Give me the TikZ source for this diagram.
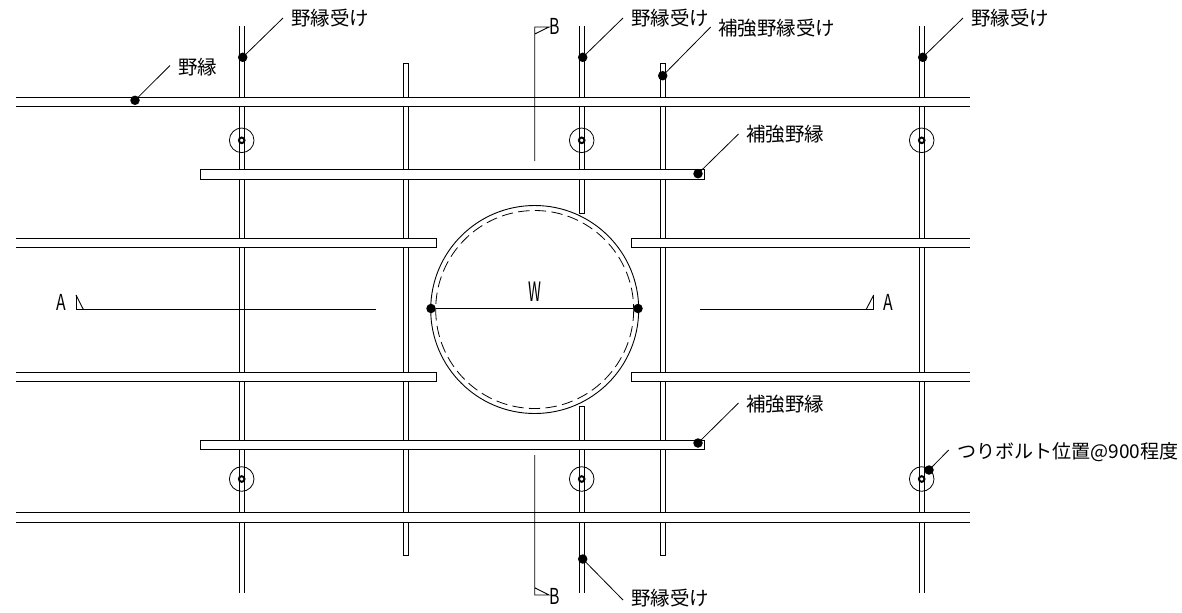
\documentclass[tikz,border=0pt]{standalone}
\usepackage{fontspec}
\setmainfont{Noto Sans CJK JP}
\newfontfamily\latinnarrow[FakeStretch=0.72]{Noto Sans CJK JP}
\newfontfamily\widthletter[FakeStretch=0.55]{Noto Sans CJK JP}
\tikzset{
  wire/.style={line width=0.68pt,black},
  thin wire/.style={line width=0.6pt,black},
  dot/.style={circle,fill=black,draw=none,minimum size=9.5pt*0.75,inner sep=0pt},
  leader/.style={line width=0.6pt,black},
  label text/.style={anchor=west,inner sep=0pt,yshift=-1.2pt,font=\fontsize{14.6pt}{16pt}\selectfont,text height=11pt,text depth=2pt},
  sec text/.style={inner sep=0pt,font=\latinnarrow\fontsize{16.5pt}{18pt}\selectfont},
}
\newcommand{\myvopen}[4]{% x1 x2 y1 y2 open both ends
  \draw[wire] (#1,#3) -- (#1,#4) (#2,#3) -- (#2,#4);}
\newcommand{\myvclosed}[4]{% closed ends
  \draw[wire,fill=white] (#1,#3) rectangle (#2,#4);}
\newcommand{\myhopen}[4]{% x1 x2 y1 y2, open ends
  \fill[white] (#1,#3) rectangle (#2,#4);
  \draw[wire] (#1,#3) -- (#2,#3) (#1,#4) -- (#2,#4);}
\newcommand{\myhleft}[4]{% open at left, closed at right
  \fill[white] (#1,#3) rectangle (#2,#4);
  \draw[wire] (#1,#3) -- (#2,#3) -- (#2,#4) -- (#1,#4);}
\newcommand{\myhright}[4]{% closed at left, open at right
  \fill[white] (#1,#3) rectangle (#2,#4);
  \draw[wire] (#2,#3) -- (#1,#3) -- (#1,#4) -- (#2,#4);}
\newcommand{\mybolt}[2]{%
  \draw[thin wire] (#1,#2) circle[radius=12.3];
  \draw[line width=1.5pt,fill=white] (#1,#2) circle[radius=2.8];}
\begin{document}
\begin{tikzpicture}[x=0.75pt,y=-0.75pt]
\useasboundingbox (0,0) rectangle (1182,612);
% vertical members
\myvopen{239.6}{244.4}{26}{593}
\myvopen{919.4}{924.6}{26}{593}
\draw[wire] (579.4,26) -- (579.4,213) -- (584.4,213) -- (584.4,26);
\draw[wire] (579.4,593) -- (579.4,406) -- (584.4,406) -- (584.4,593);
\myvclosed{403.4}{408.4}{63.5}{555.7}
\myvclosed{660.4}{665.6}{63.5}{555.7}
% bolts
\mybolt{241.7}{140.3}\mybolt{581.7}{140.3}\mybolt{921.7}{140.3}
\mybolt{241.7}{479}\mybolt{581.7}{479}\mybolt{921.7}{479}
% horizontal members
\myhopen{16}{970}{97.2}{106.5}
\myhopen{16}{970}{512.5}{522.2}
\myhleft{16}{436.4}{238.2}{247.5}
\myhleft{16}{436.4}{372.2}{381.5}
\myhright{631.4}{970}{238.2}{247.5}
\myhright{631.4}{970}{372.2}{381.5}
\draw[wire,fill=white] (200,169.8) rectangle (704,179.3);
\draw[wire,fill=white] (200,440.2) rectangle (704,449.7);
% opening
\draw[wire] (534.7,309.5) circle[radius=104];
\draw[thin wire,dash pattern=on 8.5pt off 4pt] (534.7,309.5) circle[radius=99];
% section line A
\draw[wire] (76,295) -- (76,309.7) -- (376,309.7);
\draw[wire] (76,295) -- (83.5,309.7);
\draw[wire] (873.7,295) -- (873.7,309.7) -- (700,309.7);
\draw[wire] (873.7,295) -- (866,309.7);
\node[sec text] (al) at (61,302) {A};
\node[sec text] (ar) at (888,302) {A};
% section line B
\draw[wire] (534.7,161) -- (534.7,27) -- (549,27) -- (534.7,34);
\draw[wire] (534.7,455) -- (534.7,595) -- (549,595) -- (534.7,587.7);
\node[sec text] (bt) at (554.7,26) {B};
\node[sec text] (bb) at (554.7,596) {B};
% width W
\node[dot] (wl) at (431,308.5) {};
\node[dot] (wr) at (638,308.5) {};
\draw[wire] (wl) -- (wr);
\node[inner sep=0pt,font=\widthletter\fontsize{20pt}{22pt}\selectfont] (w) at (534.7,292) {W};
% leaders
\node[dot] (d1) at (242.7,57.3) {};
\coordinate (e1) at (283,18);
\draw[leader] (d1.center) -- (e1);
\node[label text] (t1) at (291,18) {野縁受け};
\node[dot] (d2) at (135,100.3) {};
\coordinate (e2) at (170,65.5);
\draw[leader] (d2.center) -- (e2);
\node[label text] (t2) at (178,67) {野縁};
\node[dot] (d3) at (582.7,57.3) {};
\coordinate (e3) at (623,18);
\draw[leader] (d3.center) -- (e3);
\node[label text] (t3) at (631,18) {野縁受け};
\node[dot] (d4) at (662.7,75.7) {};
\coordinate (e4) at (710.7,27);
\draw[leader] (d4.center) -- (e4);
\node[label text] (t4) at (718,28) {補強野縁受け};
\node[dot] (d5) at (922.7,57.3) {};
\coordinate (e5) at (963,18);
\draw[leader] (d5.center) -- (e5);
\node[label text] (t5) at (971,18) {野縁受け};
\node[dot] (d6) at (698,173.7) {};
\coordinate (e6) at (738.5,134);
\draw[leader] (d6.center) -- (e6);
\node[label text] (t6) at (746,134) {補強野縁};
\node[dot] (d7) at (698,443) {};
\coordinate (e7) at (738.5,403);
\draw[leader] (d7.center) -- (e7);
\node[label text] (t7) at (746,404) {補強野縁};
\node[dot] (d8) at (929,470) {};
\coordinate (e8) at (948.7,450);
\draw[leader] (d8.center) -- (e8);
\node[label text,font=\fontsize{14.3pt}{16pt}\selectfont] (t8) at (957,451) {つりボルト位置@900程度};
\node[dot] (d9) at (582.7,559) {};
\coordinate (e9) at (623,600);
\draw[leader] (d9.center) -- (e9);
\node[label text] (t9) at (631,598) {野縁受け};
\end{tikzpicture}
\end{document}
